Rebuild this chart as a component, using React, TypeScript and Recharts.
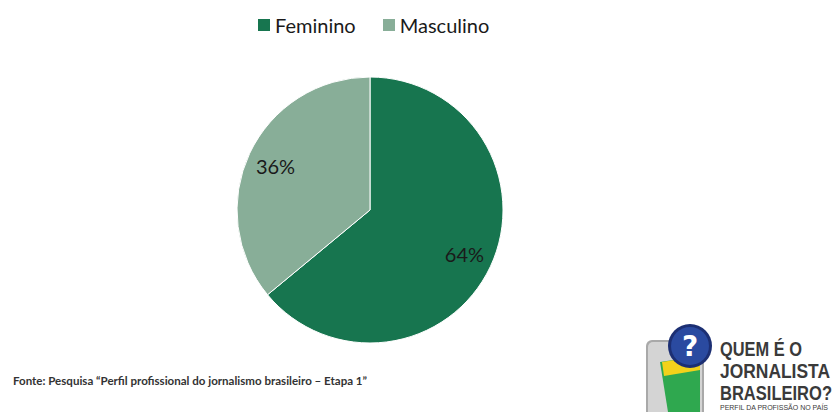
import React from "react";
import { PieChart, Pie, Cell } from "recharts";

const categories = ["Feminino", "Masculino"];
const values = [64, 36];
const colors = ["#17754f", "#88ae98"];
const sourceText = "Fonte:  Pesquisa \u201cPerfil profissional do jornalismo brasileiro \u2013 Etapa 1\u201d";
const logoLines = ["QUEM É O", "JORNALISTA", "BRASILEIRO?"];
const logoSub = "PERFIL DA PROFISSÃO NO PAÍS";

const data = categories.map((name, i) => ({ name, value: values[i] }));

const RADIAN = Math.PI / 180;
const renderLabel = (props: any) => {
  const { cx, cy, midAngle, outerRadius, value } = props;
  const r = outerRadius * 0.785;
  const x = cx + r * Math.cos(-midAngle * RADIAN);
  const y = cy + r * Math.sin(-midAngle * RADIAN);
  return (
    <text x={x} y={y} fill="#1a1a1a" textAnchor="middle" dominantBaseline="central"
      style={{ fontFamily: "Lato, 'Open Sans', sans-serif", fontSize: 20 }}>
      {`${value}%`}
    </text>
  );
};

const logoWidths = [82, 110, 112];
const logoBaselines = [356, 378, 400];

export default function App() {
  return (
    <div style={{ position: "absolute", left: 0, top: 0, width: 838, height: 412, background: "#fff", overflow: "hidden" }}>
      <PieChart width={838} height={412} margin={{ top: 0, right: 0, bottom: 0, left: 0 }}>
        <Pie data={data} dataKey="value" nameKey="name" cx={370} cy={210} outerRadius={133}
          startAngle={90} endAngle={-270} stroke="#ffffff" strokeWidth={1}
          label={renderLabel} labelLine={false} isAnimationActive={false}>
          {data.map((d, i) => (
            <Cell key={d.name} fill={colors[i]} />
          ))}
        </Pie>
      </PieChart>
      <div style={{ position: "absolute", left: 258, top: 13, display: "flex", alignItems: "center", fontFamily: "Lato, 'Open Sans', sans-serif", fontSize: 20, color: "#1a1a1a", lineHeight: "24px" }}>
        {data.map((d, i) => (
          <div key={d.name} style={{ display: "flex", alignItems: "center", marginRight: i === 0 ? 27 : 0 }}>
            <div style={{ width: 12, height: 12, background: colors[i], marginRight: 5 }} />
            <span>{d.name}</span>
          </div>
        ))}
      </div>
      <svg width={838} height={412} style={{ position: "absolute", left: 0, top: 0, pointerEvents: "none" }}>
        <text x={13} y={385} textLength={354} lengthAdjust="spacingAndGlyphs"
          style={{ fontFamily: "Lato, 'Open Sans', sans-serif", fontSize: 11, fontWeight: 700, fill: "#333" }}>
          {sourceText}
        </text>
        {/* logo */}
        <rect x={646} y={340} width={58} height={80} rx={6} fill="#a9a9a9" />
        <rect x={648} y={342} width={54} height={76} rx={5} fill="#d4d4d4" />
        <polygon points="660,362 700,356 700,412 668,412" fill="#2fa84f" />
        <polygon points="662,362 700,356 700,370 664,376" fill="#f2d21b" />
        <circle cx={690} cy={346} r={22} fill="#1c2f73" />
        <circle cx={690} cy={346} r={19} fill="#2a4aa0" />
        <text x={690} y={356} textAnchor="middle" style={{ fontFamily: "'DejaVu Sans', sans-serif", fontSize: 28, fontWeight: 700, fill: "#fff" }}>?</text>
        <g style={{ fontFamily: "'Liberation Sans Narrow', 'Liberation Sans', sans-serif", fontWeight: 700, fill: "#3a3a3a" }}>
          {logoLines.map((t, i) => (
            <g key={t} transform={`translate(720,${logoBaselines[i]}) scale(1,1.35)`}>
              <text x={0} y={0} fontSize={15.5} textLength={logoWidths[i]} lengthAdjust="spacingAndGlyphs">{t}</text>
            </g>
          ))}
          <text x={720} y={410} fontSize={7} fontWeight={400} textLength={108} lengthAdjust="spacingAndGlyphs">{logoSub}</text>
        </g>
      </svg>
    </div>
  );
}
